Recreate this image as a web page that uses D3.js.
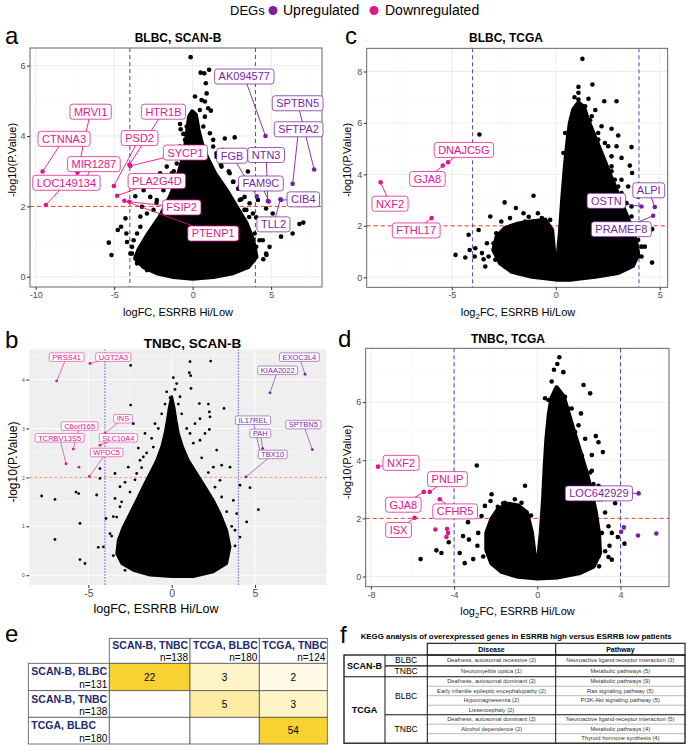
<!DOCTYPE html>
<html><head><meta charset="utf-8">
<script src="https://cdn.jsdelivr.net/npm/d3@7"></script>
<style>body{margin:0;background:#fff}svg{display:block}</style>
</head><body><script>
const FONT='"Liberation Sans", Arial, Helvetica, sans-serif';
const PINK="#e0168c", PURPLE="#7b1fa2", NAVY="#262a6b";

// ---------------- Panel a: BLBC, SCAN-B ----------------
const aCloud=[[0,-0.05],[-1.22,0],[-2.28,0.11],[-3.12,0.28],[-3.65,0.52],[-3.44,0.76],[-2.81,1.23],[-2.07,1.71],[-1.43,2.27],[-1.01,2.75],[-0.70,3.22],[-0.46,3.70],[-0.32,4.17],[-0.21,4.55],[-0.02,4.69],[0.19,4.6],[0.36,4.17],[0.57,3.79],[0.89,3.41],[1.41,2.94],[2.15,2.46],[2.78,1.99],[3.42,1.52],[3.84,1.04],[4.05,0.57],[3.52,0.28],[2.57,0.11],[1.31,0]];
const aOut=[[-0.13,6.24],[0.51,5.8],[0.74,5.78],[1.05,5.88],[0.84,5.5],[0.89,5.21],[0.78,4.98],[0.99,4.79],[1.16,4.72],[-0.76,4.19],[-0.59,4.06],[2.05,3.93],[1.31,3.89],[-0.8,3.7],[1.52,3.51],
[2.68,3.96],[-0.8,4.34],[0.15,5.12],[3.52,2.99],[3.84,2.56],[3.0,3.41],[5.1,1.8],[5.2,1.63],[6.37,1.23],[6.8,1.5],[7.05,1.54],[4.9,0.85],[5.63,1.14],[4.26,1.04],[4.37,1.42],[4.68,1.94],[4.05,1.69],[3.95,1.23],[3.42,0.66],
[-5.34,0.97],[-5.17,0.62],[-4.77,1.33],[-4.56,1.42],[-4.28,1.66],[-4.22,1.23],[-4.18,0.99],[-3.86,0.85],[-3.97,0.66],[-3.65,2.29],[-3.12,2.46],[-2.7,2.27],[-3.23,1.99],[-3.33,1.71],[-2.49,2.56],[-2.07,2.94],[-1.65,3.13],[-1.43,3.41],
[2.3,3.0],[2.6,2.7],[3.1,2.2],[2.9,2.5],[1.8,3.2],[3.3,1.9],[3.6,1.7],[1.9,3.6],[2.2,3.3],[-1.9,2.6],[-2.3,2.1],[-1.2,3.0],[4.5,0.5],[4.7,0.62],
[1.52,3.41],[1.84,3.13],[2.36,2.94],[2.57,2.7],[3.0,2.56],[3.31,2.27],[3.63,2.09],[3.84,1.8],[4.16,2.18],[3.0,2.18],[3.42,1.9],[4.26,1.42],[4.47,1.04],[4.05,0.85],[3.84,0.47],[3.2,0.28],[3.42,1.23],[4.68,0.66],[1.31,3.7],[1.1,4.08],[0.68,4.27],[0.78,4.55],[0.57,5.02],[0.46,4.74],
[-0.8,3.6],[-1.01,3.22],[-1.33,2.94],[-1.65,2.7],[-1.86,2.46],[-2.28,2.18],[-2.49,1.9],[-2.91,1.8],[-3.33,1.42],[-3.54,1.23],[-3.76,1.04],[-3.86,0.66],[-3.54,0.38],[-2.91,0.19],[-3.12,0.66],[-2.7,1.04],[-2.07,1.42],[-1.54,1.8],[-1.22,2.18],[-0.49,3.89],[-0.38,4.27]];
const aDownGenes=["CTNNA3","LOC149134","MRVI1","MIR1287","PSD2","PLA2G4D","HTR1B","SYCP1","PTENP1","FSIP2"];
const aDownFC=[-9.56,-9.35,-7.34,-6.81,-5.02,-4.81,-4.03,-3.97,-4.35,-4.03];
const aDownP=[2.99,2.04,2.96,2.80,2.58,2.30,3.18,3.15,2.16,2.13];
const aUpGenes=["AK094577","SPTBN5","SFTPA2","NTN3","FGB","FAM9C","CIB4","TLL2"];
const aUpFC=[4.64,7.74,6.37,4.79,4.09,4.85,5.63,5.59];
const aUpP=[4.0,3.05,2.64,2.15,2.29,2.14,2.18,2.2];

// ---------------- Panel b: TNBC, SCAN-B ----------------
const bCloud=[[0,-0.03],[-1.3,0],[-2.3,0.1],[-3.0,0.24],[-3.3,0.44],[-3.2,0.72],[-2.9,0.99],[-2.5,1.26],[-2.1,1.53],[-1.7,1.81],[-1.3,2.08],[-0.9,2.35],[-0.6,2.62],[-0.4,2.9],[-0.26,3.17],[-0.14,3.44],[0,3.65],[0.14,3.44],[0.26,3.17],[0.4,2.9],[0.66,2.62],[1.0,2.35],[1.5,2.08],[2.0,1.81],[2.5,1.53],[2.9,1.26],[3.3,0.92],[3.5,0.58],[3.3,0.24],[2.5,0.07],[1.3,-0.03]];
const bOut=[[-2.46,4.29],[1.1,4.37],[2.34,4.38],[1.06,4.14],[1.14,4.08],[0.1,4.04],[0.3,3.92],[1.16,3.82],[-0.1,3.63],[1.66,3.51],[2.2,3.5],[3.14,3.41],[-2.46,3.48],[-2.3,3.1],[2.26,3.34],[2.3,3.24],[2.26,2.98],[1.7,3.2],
[-4.3,2.18],[-4.3,1.98],[-5.74,1.7],[-5.58,1.67],[-7.8,1.62],[-7.0,1.55],[-4.5,1.64],[-5.5,1.06],[-7.0,0.73],[-5.5,0.32],[-5.2,0.24],[-3.94,1.16],[-4.4,0.57],[-4.1,0.58],[-3.4,1.57],[-3.1,1.4],[-3.4,2.08],[-2.6,2.21],
[4.1,1.84],[4.7,1.79],[5.2,1.34],[4.5,1.09],[4.1,0.78],[3.9,1.26],[3.5,2.21],[3.0,2.25],[2.7,2.56],
[-1.1,2.62],[-1.7,2.42],[1.7,2.76],[2.5,2.21],[3.7,1.53],[-3.7,0.85],[-3.1,1.81],[-1.9,2.35],[2.9,1.94],[3.8,0.92],[-3.3,1.19],[-2.1,2.08],
[-2.8,1.9],[-2.5,1.7],[-2.2,1.95],[-1.8,2.2],[-1.5,2.5],[-1.2,2.8],[-0.8,3.0],[-0.6,3.3],[-0.4,3.5],[0.4,3.5],[0.6,3.3],[0.9,3.0],[1.3,2.7],[1.8,2.4],[2.2,2.1],[2.6,1.8],[3.0,1.6],[3.3,1.3],[3.6,1.0],[3.8,0.6],[-3.5,1.2],[-3.6,0.8],[-3.5,0.4],[-3.0,1.5],[2.0,2.9],[1.4,3.1],[-1.6,2.9],[-2.0,2.6],[3.2,0.3],[-2.8,0.1],[0.2,3.8],[-0.3,3.75],[0.5,3.65],[1.1,2.9],[-1.0,3.1]];
const bDownGenes=["PRSS41","UGT2A3","C6orf165","INS","SLC10A4","TCRBV13S5","WFDC5"];
const bDownFC=[-6.9,-4.9,-5.9,-4.0,-4.3,-6.34,-4.94];
const bDownP=[3.97,4.33,2.58,2.9,2.66,2.28,2.02];
const bDownOtherFC=[-5.56], bDownOtherP=[2.21];
const bUpGenes=["EXOC3L4","KIAA2022","IL17REL","PAH","SPTBN5","TBX10"];
const bUpFC=[8.0,5.9,5.34,5.46,8.44,4.46];
const bUpP=[4.11,3.73,2.47,2.59,2.57,2.01];

// ---------------- Panel c: BLBC, TCGA ----------------
const cCloud=[[0,-0.08],[-1.15,0.03],[-2.11,0.22],[-2.67,0.55],[-2.99,1.06],[-2.83,1.58],[-2.43,1.91],[-1.79,2.08],[-1.15,2.17],[-0.51,2.21],[-0.19,1.84],[-0.06,0.68],[0.06,0.42],[0.21,1.71],[0.32,3.01],[0.45,4.31],[0.58,5.35],[0.69,6.0],[0.85,6.52],[1.09,6.78],[1.35,6.6],[1.55,6.1],[1.8,5.6],[2.1,5.0],[2.4,4.4],[2.7,3.8],[3.0,3.2],[3.3,2.6],[3.6,2.0],[3.85,1.4],[3.95,0.9],[3.7,0.45],[3.0,0.18],[1.89,0.03],[0.77,-0.08]];
const cOut=[[-3.67,5.55],[1.28,8.49],[1.09,7.4],[1.76,7.49],[1.09,6.91],[1.57,6.94],[2.33,6.84],[2.92,6.84],[1.25,6.58],[1.65,6.1],[2.2,5.87],[2.68,5.77],[3.0,5.51],[2.52,5.09],[2.92,5.09],[3.64,5.06],[3.16,4.64],[3.56,4.34],[3.67,4.05],[2.68,4.12],[3.64,2.75],[3.04,2.95],[4.12,1.19],[4.63,0.57],[4.63,1.87],
[-1.07,3.17],[-2.46,2.91],[-1.92,2.69],[-1.55,2.49],[-0.86,2.49],[-0.51,2.23],[-3.15,2.36],[-2.62,2.17],[-4.19,1.65],[-3.71,1.84],[-4.82,0.87],[-4.35,0.77],[-4.14,1.06],[-3.9,0.81],[-3.47,0.7],[-3.23,0.81],[-3.31,1.32],[-2.96,1.13],
[3.16,3.79],[3.4,2.23],[3.8,0.94],[3.96,0.81],[-3.87,1.13],[-2.86,1.71],[4.12,1.71],[4.28,1.19],[2.04,5.35],[2.68,4.7],[3.48,3.53],[3.96,3.14],
[1.73,6.26],[2.04,5.61],[2.36,5.22],[2.2,4.7],[2.68,4.31],[2.84,3.79],[3.16,3.27],[3.4,2.88],[3.64,2.36],[3.8,1.84],[3.96,1.45],[4.12,0.81],[3.48,0.55],[3.0,3.53],[2.52,3.01],[3.48,1.71],[3.64,1.19],[1.09,7.17],[0.93,6.26],[1.41,6.65],[0.45,5.61],[0.37,4.83],[0.9,7.0],[1.9,6.5],
[-2.59,1.71],[-2.11,1.97],[-1.47,2.17],[-0.67,2.3],[-0.27,2.23],[-2.99,1.32],[-2.91,0.68],[-2.43,0.42],[-1.79,0.16],[-3.39,0.42],[-3.55,0.94],[-2.2,2.3],[-1.3,2.35]];
const cDownGenes=["DNAJC5G","GJA8","NXF2","FTHL17"];
const cDownFC=[-5.18,-5.43,-8.42,-5.97];
const cDownP=[4.47,4.34,3.69,2.3];
const cUpGenes=["ALPI","OSTN","PRAMEF8"];
const cUpFC=[4.76,4.12,4.68];
const cUpP=[2.73,2.75,2.39];

// ---------------- Panel d: TNBC, TCGA ----------------
const dCloud=[[0,-0.06],[-0.92,0],[-1.72,0.17],[-2.2,0.46],[-2.44,0.92],[-2.44,1.5],[-2.2,1.97],[-1.88,2.31],[-1.4,2.49],[-0.92,2.43],[-0.51,2.2],[-0.27,1.5],[-0.11,0.58],[0.02,0.35],[0.18,1.5],[0.29,2.66],[0.37,3.82],[0.45,4.74],[0.56,5.55],[0.69,6.13],[0.93,6.5],[1.25,6.2],[1.5,5.6],[1.75,5.0],[2.05,4.3],[2.35,3.6],[2.6,2.9],[2.8,2.2],[2.95,1.5],[3.0,0.8],[2.7,0.35],[2.0,0.12],[1.01,-0.02]];
const dOut=[[-2.91,3.82],[-0.59,3.12],[1.06,7.54],[0.96,7.31],[0.8,7.11],[1.25,7.03],[2.22,6.59],[2.54,6.3],[1.33,6.18],[0.53,6.07],[1.65,5.78],[2.1,5.61],[2.81,4.83],[2.62,4.18],[3.15,4.28],[2.62,3.64],[2.7,3.18],[3.74,2.52],[3.42,1.73],[3.58,1.5],[3.47,1.06],[3.42,0.67],[2.97,0.35],[3.26,0.87],[3.87,1.36],[4.19,1.13],[2.78,2.08],
[-2.2,2.83],[-2.25,2.6],[-1.64,2.52],[-1.56,2.25],[-3.33,1.87],[-3.57,1.39],[-3.29,1.27],[-2.88,1.06],[-3.73,0.81],[-3.49,0.46],[-3.08,0.6],[-4.26,1.18],[-4.61,0.81],[-4.85,0.9],[-5.61,0.6],[-2.68,2.08],
[2.3,4.74],[1.98,5.2],[2.94,3.12],[3.1,2.66],
[2.94,4.62],[1.82,4.97],[1.49,5.78],[1.17,6.13],[2.14,4.16],[2.54,3.58],[2.94,2.66],[3.26,2.2],[3.1,1.5],[2.94,0.69],[3.58,0.58],[0.69,6.71],[0.37,6.13],
[-2.12,1.73],[-2.36,1.16],[-2.04,0.46],[-1.56,2.54],[-1.08,2.66],[-0.76,2.54],[-2.52,2.43],[-2.84,1.5],[-2.6,0.69],[-0.3,2.1],[-1.9,2.4]];
const dDownGenes=["NXF2","PNLIP","GJA8","ISX","CFHR5"];
const dDownFC=[-7.66,-5.17,-5.46,-5.9,-4.69];
const dDownP=[3.78,2.91,2.91,2.02,2.66];
const dDownOtherFC=[-4.9,-4.34,-4.29,-4.37], dDownOtherP=[1.62,1.64,1.5,1.36];
const dUpGenes=["LOC642929"];
const dUpFC=[4.87], dUpP=[2.86];
const dUpOtherFC=[4.03,4.16,4.84,5.72], dUpOtherP=[1.54,1.69,1.41,1.48];

// ---------------- Panel e: overlap table ----------------
const eCols=["SCAN-B, TNBC","TCGA, BLBC","TCGA, TNBC"];
const eColN=[138,180,124];
const eRows=["SCAN-B, BLBC","SCAN-B, TNBC","TCGA, BLBC"];
const eRowN=[131,138,180];
const eVals=[[22,3,2],[null,5,3],[null,null,54]];

// ---------------- Panel f: KEGG table ----------------
const fTitle="KEGG analysis of overexpressed genes in ESRRB high versus ESRRB low patients";
const fDataset=["SCAN-B","SCAN-B","TCGA","TCGA","TCGA","TCGA","TCGA","TCGA","TCGA"];
const fSubtype=["BLBC","TNBC","BLBC","BLBC","BLBC","BLBC","TNBC","TNBC","TNBC"];
const fDisease=["Deafness, autosomal recessive (2)","Neuromyelitis optica (1)","Deafness, autosomal dominant (2)","Early infantile epileptic encephalopathy (2)","Hypomagnesemia (2)","Lissencephaly (2)","Deafness, autosomal dominant (2)","Alcohol dependence (2)",""];
const fPathway=["Neuroactive ligand-receptor interaction (3)","Metabolic pathways (5)","Metabolic pathways (9)","Ras signaling pathway  (5)","PI3K-Akt signaling pathway (5)","","Neuroactive ligand-receptor interaction (5)","Metabolic pathways (4)","Thyroid hormone synthesis (4)"];

// ======================================================
const svg=d3.select("body").append("svg").attr("width",689).attr("height",750).style("font-family",FONT);
const defs=svg.append("defs");

function volcano(o){
  const [x0,x1,y0,y1]=o.box;
  const x=d3.scaleLinear().domain(o.xd).range([x0,x1]);
  const y=d3.scaleLinear().domain(o.yd).range([y1,y0]);
  const g=svg.append("g");
  g.append("rect").attr("x",x0).attr("y",y0).attr("width",x1-x0).attr("height",y1-y0).attr("fill",o.bg);
  const gr=g.append("g");
  o.xminor.forEach(v=>gr.append("line").attr("x1",x(v)).attr("x2",x(v)).attr("y1",y0).attr("y2",y1).attr("stroke",o.gridMinor).attr("stroke-width",0.5));
  o.yminor.forEach(v=>gr.append("line").attr("y1",y(v)).attr("y2",y(v)).attr("x1",x0).attr("x2",x1).attr("stroke",o.gridMinor).attr("stroke-width",0.5));
  o.xt.forEach(v=>gr.append("line").attr("x1",x(v)).attr("x2",x(v)).attr("y1",y0).attr("y2",y1).attr("stroke",o.grid).attr("stroke-width",0.9));
  o.yt.forEach(v=>gr.append("line").attr("y1",y(v)).attr("y2",y(v)).attr("x1",x0).attr("x2",x1).attr("stroke",o.grid).attr("stroke-width",0.9));
  const cid="clip-"+o.id;
  defs.append("clipPath").attr("id",cid).append("rect").attr("x",x0).attr("y",y0).attr("width",x1-x0).attr("height",y1-y0);
  const L=g.append("g").attr("clip-path",`url(#${cid})`);
  [-4,4].forEach(v=>L.append("line").attr("x1",x(v)).attr("x2",x(v)).attr("y1",y0).attr("y2",y1)
    .attr("stroke",o.vcol).attr("stroke-width",o.vw).attr("stroke-dasharray",o.vdash));
  L.append("line").attr("x1",x0).attr("x2",x1).attr("y1",y(2)).attr("y2",y(2))
    .attr("stroke",o.hcol).attr("stroke-width",o.hw).attr("stroke-dasharray",o.hdash);
  L.append("path").datum(o.cloud).attr("d",d3.line().x(d=>x(d[0])).y(d=>y(d[1])).curve(d3.curveLinearClosed))
    .attr("fill","#000").attr("stroke","#000").attr("stroke-width",o.r*2).attr("stroke-linejoin","round");
  L.selectAll(null).data(o.out).join("circle").attr("cx",d=>x(d[0])).attr("cy",d=>y(d[1])).attr("r",o.r).attr("fill","#000");
  const pts=(fc,p,col)=>L.selectAll(null).data(fc.map((v,i)=>[v,p[i]])).join("circle")
    .attr("cx",d=>x(d[0])).attr("cy",d=>y(d[1])).attr("r",o.r).attr("fill",col);
  (o.dOther||[]).forEach(s=>pts(s[0],s[1],PINK));
  (o.uOther||[]).forEach(s=>pts(s[0],s[1],PURPLE));
  pts(o.down.fc,o.down.p,PINK);
  pts(o.up.fc,o.up.p,PURPLE);
  if(o.frame) g.append("rect").attr("x",x0).attr("y",y0).attr("width",x1-x0).attr("height",y1-y0).attr("fill","none").attr("stroke",o.frame).attr("stroke-width",0.9);
  const ax=g.append("g").attr("transform",`translate(0,${y1})`).attr("font-family",FONT)
    .call(d3.axisBottom(x).tickValues(o.xt).tickSize(3).tickPadding(1.5).tickFormat(d=>String(d)));
  ax.select(".domain").remove();
  ax.selectAll("line").attr("stroke","#333");
  ax.selectAll("text").attr("fill","#4d4d4d").attr("font-size",o.xfs);
  const ay=g.append("g").attr("transform",`translate(${x0},0)`).attr("font-family",FONT)
    .call(d3.axisLeft(y).tickValues(o.yt).tickSize(3).tickPadding(1.5).tickFormat(d=>String(d)));
  ay.select(".domain").remove();
  ay.selectAll("line").attr("stroke","#333");
  ay.selectAll("text").attr("fill","#4d4d4d").attr("font-size",o.yfs);
  const LB=g.append("g");
  const sets=[[o.down,PINK],[o.up,PURPLE]];
  sets.forEach(([s,col])=>s.g.forEach((n,i)=>{
    LB.append("line").attr("x1",x(s.fc[i])).attr("y1",y(s.p[i])).attr("x2",x(s.lab[i][0])).attr("y2",y(s.lab[i][1]))
      .attr("stroke",col).attr("stroke-width",o.segW);
  }));
  sets.forEach(([s,col])=>s.g.forEach((n,i)=>{
    const lx=x(s.lab[i][0]), ly=y(s.lab[i][1]);
    const t=LB.append("text").attr("x",lx).attr("y",ly).attr("dy","0.36em").attr("text-anchor","middle")
      .attr("font-size",o.lfs).attr("fill",col).text(n);
    const w=t.node().getComputedTextLength()+2*o.lpad;
    LB.insert("rect",()=>t.node()).attr("x",lx-w/2).attr("y",ly-o.lh/2).attr("width",w).attr("height",o.lh)
      .attr("rx",o.lh*0.18).attr("fill","#fff").attr("stroke",col).attr("stroke-width",o.boxW).attr("stroke-opacity",0.75);
  }));
  return {x,y};
}

const stdTheme={bg:"#fff",grid:"#ebebeb",gridMinor:"#f4f4f4",frame:"#555",vcol:"#3b4cc0",vw:1,vdash:"4,3",hcol:"#f03c2e",hw:1,hdash:"4,3",
  r:2.3,xfs:9,yfs:9,lfs:11,lpad:4,lh:15,segW:0.9,boxW:1};

volcano(Object.assign({},stdTheme,{id:"a",box:[30,322,48,287],xd:[-10.36,8.24],yd:[-0.29,6.5],
  xt:[-10,-5,0,5],yt:[0,2,4,6],xminor:[-7.5,-2.5,2.5,7.5],yminor:[1,3,5],cloud:aCloud,out:aOut,
  down:{g:aDownGenes,fc:aDownFC,p:aDownP,lab:[[-8.19,3.92],[-8.04,2.67],[-6.5,4.69],[-6.29,3.2],[-3.38,3.94],[-2.28,2.72],[-1.86,4.69],[-0.46,3.53],[1.31,1.23],[-0.7,1.97]]},
  up:{g:aUpGenes,fc:aUpFC,p:aUpP,lab:[[3.29,5.69],[6.69,4.93],[6.75,4.19],[4.68,3.46],[2.51,3.44],[4.35,2.65],[7.05,2.2],[5.15,1.49]]}}));

volcano(Object.assign({},stdTheme,{id:"c",box:[366.7,667.7,48.3,287.3],xd:[-9.09,5.38],yd:[-0.39,8.9],
  xt:[-5,0,5],yt:[0,2,4,6,8],xminor:[-7.5,-2.5,2.5],yminor:[1,3,5,7],cloud:cCloud,out:cOut,
  down:{g:cDownGenes,fc:cDownFC,p:cDownP,lab:[[-4.42,4.95],[-6.17,3.82],[-7.97,2.86],[-6.71,1.82]]},
  up:{g:cUpGenes,fc:cUpFC,p:cUpP,lab:[[4.47,3.38],[2.43,2.97],[3.15,1.87]]}}));

volcano(Object.assign({},stdTheme,{id:"d",box:[365.7,669,348.3,586.7],xd:[-8.25,6.33],yd:[-0.35,7.85],
  xt:[-8,-4,0,4],yt:[0,2,4,6],xminor:[-6,-2,2,6],yminor:[1,3,5,7],cloud:dCloud,out:dOut,
  dOther:[[dDownOtherFC,dDownOtherP]],uOther:[[dUpOtherFC,dUpOtherP]],
  down:{g:dDownGenes,fc:dDownFC,p:dDownP,lab:[[-6.55,3.91],[-4.32,3.35],[-6.44,2.47],[-6.67,1.6],[-3.95,2.24]]},
  up:{g:dUpGenes,fc:dUpFC,p:dUpP,lab:[[2.96,2.86]]}}));

volcano(Object.assign({},stdTheme,{id:"b",box:[29.3,326.7,349.3,585],xd:[-8.54,9.3],yd:[-0.2,4.62],
  bg:"#efefef",grid:"#fff",gridMinor:"#f8f8f8",frame:null,vcol:"#3347d6",vw:0.9,vdash:"1.5,1.5",hcol:"#ef8a6a",hw:0.9,hdash:"3,2",
  r:1.4,xfs:10.5,yfs:5,lfs:7.5,lpad:3,lh:8.5,segW:0.6,boxW:0.7,
  xt:[-5,0,5],yt:[0,1,2,3,4],xminor:[-7.5,-2.5,2.5,7.5],yminor:[0.5,1.5,2.5,3.5,4.5],cloud:bCloud,out:bOut,
  dOther:[[bDownOtherFC,bDownOtherP]],
  down:{g:bDownGenes,fc:bDownFC,p:bDownP,lab:[[-6.3,4.46],[-3.5,4.46],[-5.52,3.05],[-2.92,3.2],[-3.2,2.81],[-6.72,2.81],[-3.9,2.51]]},
  up:{g:bUpGenes,fc:bUpFC,p:bUpP,lab:[[7.66,4.46],[6.36,4.19],[4.88,3.17],[5.32,2.9],[7.9,3.08],[6.06,2.47]]}}));

function txt(x,y,s,fs,opt={}){
  const t=svg.append("text").attr("x",x).attr("y",y).attr("font-size",fs).attr("text-anchor",opt.anchor||"middle")
    .attr("font-weight",opt.bold?"bold":"normal").attr("fill",opt.fill||"#000").text(s);
  if(opt.rot) t.attr("transform",`rotate(-90,${x},${y})`);
  return t;
}
txt(178,41.5,"BLBC, SCAN-B",12,{bold:1});
txt(506,41.5,"BLBC, TCGA",12,{bold:1});
txt(192.5,347.5,"TNBC, SCAN-B",13.5,{bold:1});
txt(508,343,"TNBC, TCGA",12,{bold:1});
txt(178,316,"logFC, ESRRB Hi/Low",11);
txt(156,613,"logFC, ESRRB Hi/Low",12.5);
function log2lab(x,y){
  const t=svg.append("text").attr("x",x).attr("y",y).attr("font-size",11).attr("text-anchor","middle");
  t.append("tspan").text("log");
  t.append("tspan").attr("font-size",8).attr("dy",2.5).text("2");
  t.append("tspan").attr("dy",-2.5).text("FC, ESRRB Hi/Low");
}
log2lab(518,316);
log2lab(517.5,615);
txt(16,160,"-log10(P.Value)",11,{rot:1});
txt(351,160,"-log10(P.Value)",11,{rot:1});
txt(16.5,462,"-log10(P.Value)",12,{rot:1});
txt(351,462,"-log10(P.Value)",11,{rot:1});

txt(5,44,"a",24,{anchor:"start"});
txt(345,44,"c",24,{anchor:"start"});
txt(5,348,"b",24,{anchor:"start"});
txt(338,347,"d",24,{anchor:"start"});
txt(5,642,"e",24,{anchor:"start"});
txt(340,643,"f",24,{anchor:"start"});

txt(230,15,"DEGs",13,{anchor:"start"});
svg.append("circle").attr("cx",273).attr("cy",10.5).attr("r",4.5).attr("fill",PURPLE);
txt(283,15,"Upregulated",14,{anchor:"start"});
svg.append("circle").attr("cx",374).attr("cy",10.5).attr("r",4.5).attr("fill",PINK);
txt(385,15,"Downregulated",14,{anchor:"start"});

(function(){
  const colEdges=[109.3,190,259.3,327.3], rowEdges=[663.3,690.7,717.3,744], left=28.3, top=638.3;
  const col=d3.scaleLog().domain([2,22]).range(["#fffbe6","#f8d132"]).clamp(true);
  const g=svg.append("g").attr("font-family",FONT);
  const bs="#555";
  eCols.forEach((c,j)=>{
    g.append("rect").attr("x",colEdges[j]).attr("y",top).attr("width",colEdges[j+1]-colEdges[j]).attr("height",rowEdges[0]-top).attr("fill","#fff").attr("stroke",bs).attr("stroke-width",0.8);
    g.append("text").attr("x",colEdges[j]+3).attr("y",top+10.5).attr("font-size",10.5).attr("font-weight","bold").attr("fill",NAVY).text(c);
    g.append("text").attr("x",colEdges[j+1]-2).attr("y",top+22.5).attr("font-size",10).attr("text-anchor","end").text("n="+eColN[j]);
  });
  eRows.forEach((r,i)=>{
    const ya=rowEdges[i], yb=rowEdges[i+1];
    g.append("rect").attr("x",left).attr("y",ya).attr("width",colEdges[0]-left).attr("height",yb-ya).attr("fill","#fff").attr("stroke",bs).attr("stroke-width",0.8);
    g.append("text").attr("x",left+3).attr("y",ya+12).attr("font-size",10.5).attr("font-weight","bold").attr("fill",NAVY).text(r);
    g.append("text").attr("x",colEdges[0]-2).attr("y",yb-2.5).attr("font-size",10).attr("text-anchor","end").text("n="+eRowN[i]);
    eVals[i].forEach((v,j)=>{
      g.append("rect").attr("x",colEdges[j]).attr("y",ya).attr("width",colEdges[j+1]-colEdges[j]).attr("height",yb-ya)
        .attr("fill",v==null?"#fff":col(v)).attr("stroke",bs).attr("stroke-width",0.8);
      if(v!=null) g.append("text").attr("x",(colEdges[j]+colEdges[j+1])/2).attr("y",(ya+yb)/2+3.6).attr("font-size",10).attr("text-anchor","middle").text(v);
    });
  });
})();

(function(){
  const g=svg.append("g").attr("font-family",FONT);
  g.append("text").attr("x",360.7).attr("y",639).attr("font-size",7.4).attr("font-weight","bold").attr("textLength",311).attr("lengthAdjust","spacingAndGlyphs").text(fTitle);
  const cx=[344,385,427.3,555.7,685];
  const hTop=643.3, tTop=655;
  const rowH=fDataset.map(d=>d==="SCAN-B"?10.85:9.5);
  const ys=[tTop]; rowH.forEach(h=>ys.push(ys[ys.length-1]+h));
  const bottom=ys[ys.length-1];
  const thin="#888", thick="#111";
  g.append("rect").attr("x",cx[2]).attr("y",hTop).attr("width",cx[4]-cx[2]).attr("height",tTop-hTop).attr("fill","none").attr("stroke",thick).attr("stroke-width",1.1);
  g.append("line").attr("x1",cx[3]).attr("x2",cx[3]).attr("y1",hTop).attr("y2",tTop).attr("stroke",thick).attr("stroke-width",1.1);
  g.append("text").attr("x",(cx[2]+cx[3])/2).attr("y",hTop+8.3).attr("text-anchor","middle").attr("font-size",7).attr("font-weight","bold").text("Disease");
  g.append("text").attr("x",(cx[3]+cx[4])/2).attr("y",hTop+8.3).attr("text-anchor","middle").attr("font-size",7).attr("font-weight","bold").text("Pathway");
  fDisease.forEach((dz,i)=>{
    const ya=ys[i], yb=ys[i+1], mid=(ya+yb)/2;
    if(i>0){
      const newDs=fDataset[i]!==fDataset[i-1], newSub=newDs||fSubtype[i]!==fSubtype[i-1];
      const x1=newDs?cx[0]:(newSub?cx[1]:cx[2]);
      g.append("line").attr("x1",x1).attr("x2",cx[4]).attr("y1",ya).attr("y2",ya)
        .attr("stroke",newSub?thick:thin).attr("stroke-width",newSub?1.1:0.6);
    }
    g.append("text").attr("x",(cx[2]+cx[3])/2).attr("y",mid+2).attr("text-anchor","middle").attr("font-size",5.8).attr("fill","#333").text(dz);
    g.append("text").attr("x",(cx[3]+cx[4])/2).attr("y",mid+2).attr("text-anchor","middle").attr("font-size",5.8).attr("fill","#333").text(fPathway[i]);
  });
  const groups=(key)=>{const out=[];key.forEach((k,i)=>{const last=out[out.length-1];if(last&&last.k===k)last.e=i;else out.push({k,s:i,e:i});});return out;};
  groups(fDataset).forEach(gp=>{
    const mid=(ys[gp.s]+ys[gp.e+1])/2;
    g.append("text").attr("x",(cx[0]+cx[1])/2).attr("y",mid+3.2).attr("text-anchor","middle").attr("font-size",9).attr("font-weight","bold").text(gp.k);
  });
  groups(fDataset.map((d,i)=>d+"|"+fSubtype[i])).forEach(gp=>{
    const mid=(ys[gp.s]+ys[gp.e+1])/2;
    g.append("text").attr("x",(cx[1]+cx[2])/2).attr("y",mid+3).attr("text-anchor","middle").attr("font-size",8.5).text(gp.k.split("|")[1]);
  });
  [cx[1],cx[2],cx[3]].forEach(v=>g.append("line").attr("x1",v).attr("x2",v).attr("y1",tTop).attr("y2",bottom).attr("stroke",thick).attr("stroke-width",1));
  g.append("rect").attr("x",cx[0]).attr("y",tTop).attr("width",cx[4]-cx[0]).attr("height",bottom-tTop).attr("fill","none").attr("stroke",thick).attr("stroke-width",1.3);
})();
</script></body></html>
